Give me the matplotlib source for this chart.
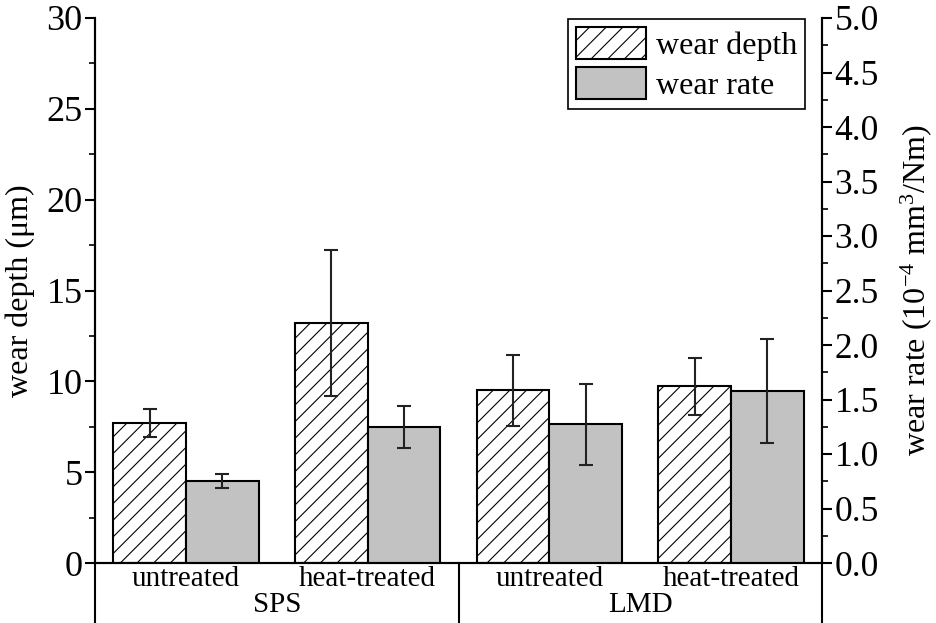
import numpy as np
import matplotlib
matplotlib.use('Agg')
import matplotlib.pyplot as plt
from matplotlib.ticker import MultipleLocator, FormatStrFormatter
from matplotlib.patches import Patch

plt.rcParams['font.family'] = ['Liberation Serif', 'DejaVu Serif']
plt.rcParams['mathtext.fontset'] = 'custom'
plt.rcParams['mathtext.rm'] = 'Liberation Serif'
plt.rcParams['mathtext.it'] = 'Liberation Serif:italic'
plt.rcParams['hatch.linewidth'] = 0.8

# Wear test results
groups = ['SPS', 'LMD']
conditions = ['untreated', 'heat-treated', 'untreated', 'heat-treated']
depth = [7.72, 13.22, 9.50, 9.74]        # um
depth_err = [0.78, 4.0, 1.97, 1.57]
rate = [0.752, 1.248, 1.272, 1.578]      # 1e-4 mm^3/Nm
rate_err = [0.062, 0.195, 0.37, 0.48]

x = np.arange(len(conditions))
w = 0.4

fig = plt.figure(figsize=(9.36, 6.23), dpi=100)
ax = fig.add_axes([95/936, 60/623, 727/936, 545/623])
ax2 = ax.twinx()

ax.bar(x - w/2, depth, w, color='white', edgecolor='black', hatch='//', linewidth=1.5)
ax.errorbar(x - w/2, depth, yerr=depth_err, fmt='none', ecolor='#222222',
            elinewidth=1.5, capsize=5, capthick=1.5)
ax2.bar(x + w/2, rate, w, color='#c2c2c2', edgecolor='black', linewidth=1.5)
ax2.errorbar(x + w/2, rate, yerr=rate_err, fmt='none', ecolor='#222222',
             elinewidth=1.5, capsize=5, capthick=1.5)

ax.set_xlim(-0.5, 3.5)
ax.set_ylim(0, 30)
ax2.set_ylim(0, 5)
ax.yaxis.set_major_locator(MultipleLocator(5))
ax.yaxis.set_minor_locator(MultipleLocator(2.5))
ax2.yaxis.set_major_locator(MultipleLocator(0.5))
ax2.yaxis.set_minor_locator(MultipleLocator(0.25))
ax2.yaxis.set_major_formatter(FormatStrFormatter('%.1f'))

for a in (ax, ax2):
    a.spines['top'].set_visible(False)
    for s in a.spines.values():
        s.set_linewidth(1.5)
ax.tick_params(axis='y', which='major', direction='out', length=7, width=1.5,
               labelsize=26, pad=2)
ax.tick_params(axis='y', which='minor', direction='out', length=4, width=1.2)
ax2.tick_params(axis='y', which='major', direction='out', length=7, width=1.5,
                labelsize=25.5, pad=2)
ax2.tick_params(axis='y', which='minor', direction='out', length=4, width=1.2)

ax.set_xticks(x)
ax.set_xticklabels(conditions)
ax.tick_params(axis='x', length=0, labelsize=21, pad=2)

ax.set_ylabel('wear depth (μm)', fontsize=23, labelpad=8)
ax2.set_ylabel(r'wear rate (10$^{-4}$ mm$^{3}$/Nm)', fontsize=23, labelpad=14)

# group labels and separators below the axis
for i, g in enumerate(groups):
    ax.text(2*i + 0.5, -0.077, g, transform=ax.get_xaxis_transform(),
            ha='center', va='center', fontsize=21)
for xs in (-0.5, 1.5, 3.5):
    ax.plot([xs, xs], [0, -0.12], transform=ax.get_xaxis_transform(),
            color='black', lw=1.5, clip_on=False)

handles = [Patch(facecolor='white', edgecolor='black', hatch='//', linewidth=1.5),
           Patch(facecolor='#c2c2c2', edgecolor='black', linewidth=1.5)]
leg = ax2.legend(handles, ['wear depth', 'wear rate'], loc='upper right',
                 bbox_to_anchor=(0.977, 0.998), borderaxespad=0, fontsize=23,
                 fancybox=False, edgecolor='black', framealpha=1,
                 handlelength=2.2, handleheight=1.15, handletextpad=0.3,
                 borderpad=0.25, labelspacing=0.2)
leg.get_frame().set_linewidth(1.2)

fig.savefig('out.png', dpi=100)
